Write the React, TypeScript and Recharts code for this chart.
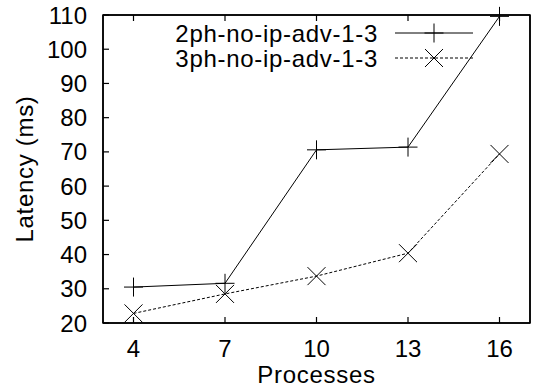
import { LineChart, Line, XAxis, YAxis, Label } from "recharts";

const processes = [4, 7, 10, 13, 16];
const twoPhase = [30.5, 31.6, 70.6, 71.4, 109.6];
const threePhase = [22.8, 28.5, 33.7, 40.4, 69.4];
const xTicks = [4, 7, 10, 13, 16];
const yTicks = [20, 30, 40, 50, 60, 70, 80, 90, 100, 110];
const seriesNames = ["2ph-no-ip-adv-1-3", "3ph-no-ip-adv-1-3"];

const FONT = '"Liberation Sans", Arial, Helvetica, sans-serif';
const FS = 24;
const INK = "black";
const TICK = 6;
const GAP = 8; // default tickSize + tickMargin
const PLOT = { left: 103, top: 15, right: 530, bottom: 323 };

const data = processes.map((p, i) => ({ p, a: twoPhase[i], b: threePhase[i] }));

function Plus({ cx, cy, size = 9.5 }: any) {
  if (cx == null || cy == null) return null;
  return (
    <g>
      <line x1={cx - size} y1={cy} x2={cx + size} y2={cy} stroke={INK} strokeWidth={1} />
      <line x1={cx} y1={cy - size} x2={cx} y2={cy + size} stroke={INK} strokeWidth={1} />
    </g>
  );
}

function Cross({ cx, cy, size = 9 }: any) {
  if (cx == null || cy == null) return null;
  return (
    <g>
      <line x1={cx - size} y1={cy - size} x2={cx + size} y2={cy + size} stroke={INK} strokeWidth={1} />
      <line x1={cx - size} y1={cy + size} x2={cx + size} y2={cy - size} stroke={INK} strokeWidth={1} />
    </g>
  );
}

// gnuplot style: ticks point inward, labels outside
const BottomTick = ({ x, y, payload }: any) => (
  <g>
    <line x1={x} y1={y - GAP} x2={x} y2={y - GAP - TICK} stroke={INK} strokeWidth={1.2} />
    <text x={x} y={y + 17} textAnchor="middle" dominantBaseline="central" fontSize={FS} fontFamily={FONT} fill="#000">
      {payload.value}
    </text>
  </g>
);
const TopTick = ({ x, y }: any) => (
  <line x1={x} y1={y + GAP} x2={x} y2={y + GAP + TICK} stroke={INK} strokeWidth={1.2} />
);
const LeftTick = ({ x, y, payload }: any) => (
  <g>
    <line x1={x + GAP} y1={y} x2={x + GAP + TICK} y2={y} stroke={INK} strokeWidth={1.2} />
    <text x={x - 8} y={y} textAnchor="end" dominantBaseline="central" fontSize={FS} fontFamily={FONT} fill="#000">
      {payload.value}
    </text>
  </g>
);
const RightTick = ({ x, y }: any) => (
  <line x1={x - GAP} y1={y} x2={x - GAP - TICK} y2={y} stroke={INK} strokeWidth={1.2} />
);

// key box + plot border, drawn on top of the chart
function Overlay() {
  const rows = [
    { name: seriesNames[0], y: 33, dash: undefined, M: Plus },
    { name: seriesNames[1], y: 58, dash: "3 2", M: Cross },
  ];
  return (
    <svg width={540} height={390} style={{ position: "absolute", left: 0, top: 0, pointerEvents: "none" }}>
      <rect
        x={PLOT.left}
        y={PLOT.top}
        width={PLOT.right - PLOT.left}
        height={PLOT.bottom - PLOT.top}
        fill="none"
        stroke={INK}
        strokeWidth={1.5}
      />
      {rows.map(({ name, y, dash, M }) => (
        <g key={name}>
          <text
            x={378}
            y={y}
            textAnchor="end"
            dominantBaseline="central"
            fontSize={FS}
            letterSpacing={0.7}
            fontFamily={FONT}
            fill="#000"
          >
            {name}
          </text>
          <line x1={395} y1={y} x2={473} y2={y} stroke={INK} strokeDasharray={dash} />
          <M cx={434} cy={y} />
        </g>
      ))}
    </svg>
  );
}

const frame = { stroke: INK, strokeWidth: 1.5 };
const labelStyle = { fontSize: FS, fontFamily: FONT, fill: "#000", letterSpacing: 0.7 };

export default function App() {
  return (
    <div style={{ position: "absolute", left: 0, top: 0, width: 540, height: 390, background: "#fff" }}>
      <LineChart width={540} height={390} data={data} margin={{ top: 0, right: 0, left: 0, bottom: 0 }}>
        <XAxis
          dataKey="p"
          type="number"
          domain={[3, 17]}
          ticks={xTicks}
          height={67}
          stroke={INK}
          tickLine={false}
          tick={<BottomTick />}
          axisLine={frame}
        >
          <Label value="Processes" position="insideBottom" offset={7} style={labelStyle} />
        </XAxis>
        <XAxis
          xAxisId="top"
          orientation="top"
          dataKey="p"
          type="number"
          domain={[3, 17]}
          ticks={xTicks}
          height={15}
          stroke={INK}
          tickLine={false}
          tick={<TopTick />}
          axisLine={frame}
        />
        <YAxis
          type="number"
          domain={[20, 110]}
          ticks={yTicks}
          width={103}
          stroke={INK}
          tickLine={false}
          tick={<LeftTick />}
          axisLine={frame}
        >
          <Label
            value="Latency (ms)"
            angle={-90}
            position="insideLeft"
            offset={24}
            style={{ ...labelStyle, textAnchor: "middle" }}
          />
        </YAxis>
        <YAxis
          yAxisId="right"
          orientation="right"
          type="number"
          domain={[20, 110]}
          ticks={yTicks}
          width={10}
          stroke={INK}
          tickLine={false}
          tick={<RightTick />}
          axisLine={frame}
        />
        <Line
          dataKey="a"
          name={seriesNames[0]}
          stroke={INK}
          strokeWidth={1}
          dot={<Plus />}
          activeDot={false}
          isAnimationActive={false}
        />
        <Line
          dataKey="b"
          name={seriesNames[1]}
          stroke={INK}
          strokeWidth={1}
          strokeDasharray="3 2"
          dot={<Cross />}
          activeDot={false}
          isAnimationActive={false}
        />
      </LineChart>
      <Overlay />
    </div>
  );
}
